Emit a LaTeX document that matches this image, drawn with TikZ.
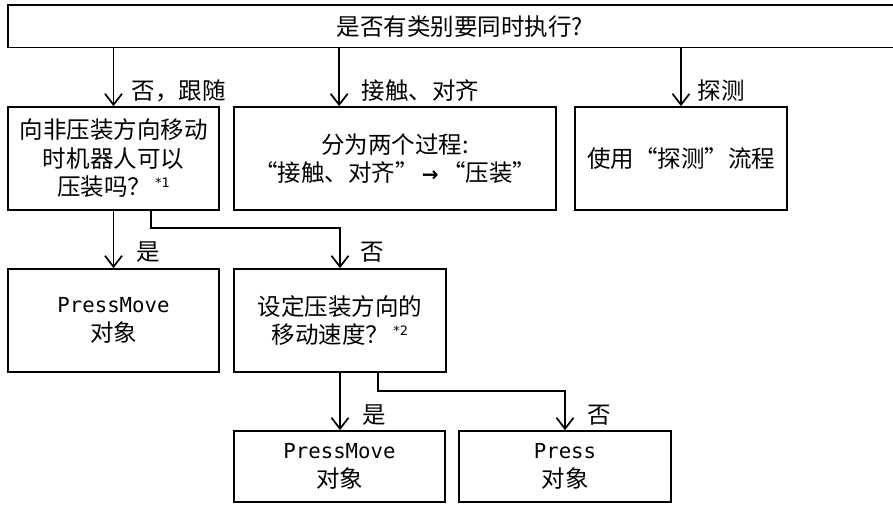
\documentclass[tikz,border=0pt]{standalone}
\usepackage{fontspec}
\setmainfont{Noto Sans CJK SC}
\newfontfamily\pmfont{DejaVu Sans Mono}[Scale=0.88]
\newfontfamily\arrfont{DejaVu Sans}
\newfontfamily\supfont{DejaVu Sans}
\usetikzlibrary{arrows.meta,calc}
\newcommand\cnfont{\fontsize{23.5}{28.5}\selectfont}
\newcommand\supnote[1]{\,\raisebox{8pt}{\supfont\fontsize{13}{13}\selectfont #1}}
\newcommand\heavyarr{\makebox[23.5pt]{\arrfont\bfseries\fontsize{20}{20}\selectfont →}}
\begin{document}
\begin{tikzpicture}[x=1pt,y=-1pt,line width=1.7pt,
  box/.style={draw,rectangle,inner sep=0pt,align=center,font=\cnfont},
  arr/.style={-{Straight Barb[length=11pt,width=17pt]}},
  lbl/.style={anchor=west,inner sep=0pt,font=\cnfont}]
\useasboundingbox (0,0) rectangle (893,504);
\node[box,minimum width=904pt,minimum height=42.5pt] (top) at (460,26.3) {是否有类别要同时执行?};
\node[box,minimum width=211pt,minimum height=103pt] (b1) at (113.5,158.5) {向非压装方向移动\\时机器人可以\\压装吗？\supnote{*1}};
\node[box,minimum width=322pt,minimum height=103pt] (b2) at (395,158.5) {分为两个过程:\\“接触、对齐”\heavyarr“压装”};
\node[box,minimum width=212pt,minimum height=103pt] (b3) at (681,158.5) {使用“探测”流程};
\node[box,minimum width=211pt,minimum height=103pt] (c1) at (113.5,320.5) {{\pmfont PressMove}\\对象};
\node[box,minimum width=212pt,minimum height=103pt] (c2) at (340,320.5) {设定压装方向的\\移动速度？\supnote{*2}};
\node[box,minimum width=211pt,minimum height=71pt] (d1) at (339.5,466.5) {{\pmfont PressMove}\\对象};
\node[box,minimum width=212pt,minimum height=71pt] (d2) at (565,466.5) {{\pmfont Press}\\对象};
% connectors
\coordinate (m2) at ([xshift=106pt]b2.north west);
\draw[arr] (top.south -| b1.north) -- (b1.north);
\draw[arr] (top.south -| m2) -- (m2);
\draw[arr] (top.south -| b3.north) -- (b3.north);
\draw[arr] (b1.south) -- (c1.north);
\coordinate (s1) at ([xshift=144pt]b1.south west);
\draw[arr] (s1) -- ++(0,17) -| (c2.north);
\draw[arr] (c2.south) -- (c2.south |- d1.north);
\coordinate (s2) at ([xshift=145pt]c2.south west);
\draw[arr] (s2) -- ++(0,18) -| (d2.north);
% labels
\node[lbl] (l1) at (131,91) {否，跟随};
\node[lbl] (l2) at (361,91) {接触、对齐};
\node[lbl] (l3) at (697,91) {探测};
\node[lbl] (l4) at (136,252) {是};
\node[lbl] (l5) at (360,252) {否};
\node[lbl] (l6) at (362,415) {是};
\node[lbl] (l7) at (587,415) {否};
\end{tikzpicture}
\end{document}
